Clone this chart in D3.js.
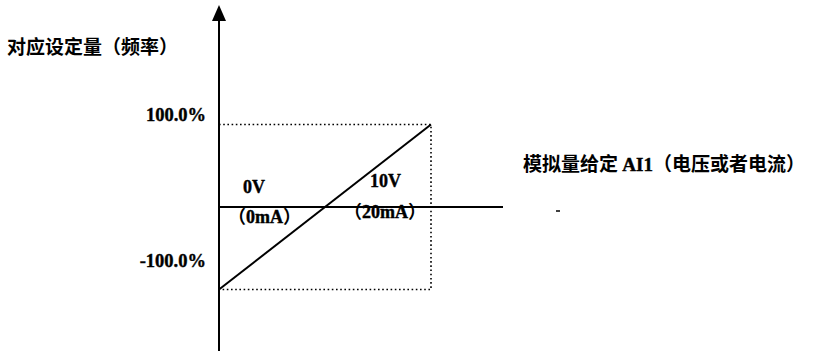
<!DOCTYPE html>
<html>
<head>
<meta charset="utf-8">
<script src="https://cdn.jsdelivr.net/npm/d3@7"></script>
<style>
  body { margin: 0; background: #fff; }
  .serif { font-family: "Liberation Serif", "DejaVu Serif", serif; font-weight: bold; }
  .cjk { font-family: "Noto Sans CJK SC", sans-serif; font-weight: bold; }
</style>
</head>
<body>
<svg id="chart" width="819" height="351"></svg>
<script>

// input AI1 in volts, output setting in percent
var voltage = [0, 10],
    setting = [-100, 100];

var yTickLabels = ["100.0%", "-100.0%"],
    yTickValues = [100, -100];

var xLabels = [
    {v: 0, top: "0V", bottom: "0mA"},
    {v: 10, top: "10V", bottom: "20mA"}
];

var yTitle = "对应设定量（频率）",
    xTitleA = "模拟量给定 ",
    xTitleB = "AI1",
    xTitleC = "（电压或者电流）";

var svg = d3.select("#chart");

var x = d3.scaleLinear()
    .domain([0, 10])
    .range([219, 431]);

var y = d3.scaleLinear()
    .domain([-100, 100])
    .range([289.5, 124.5]);

var y0 = y(0);

// dotted box for the +-100% window
var box = d3.path();
box.moveTo(x(0), y(100));
box.lineTo(x(10), y(100));
box.lineTo(x(10), y(-100));
box.lineTo(x(0), y(-100));

svg.append("path")
    .attr("d", box.toString())
    .attr("fill", "none")
    .attr("stroke", "#000")
    .attr("stroke-width", 1.6)
    .attr("stroke-dasharray", "1.6,2.6");

// horizontal axis
svg.append("line")
    .attr("x1", x(0))
    .attr("x2", 503)
    .attr("y1", y0)
    .attr("y2", y0)
    .attr("stroke", "#000")
    .attr("stroke-width", 2);

// vertical axis with arrow
svg.append("line")
    .attr("x1", x(0))
    .attr("x2", x(0))
    .attr("y1", 18)
    .attr("y2", 351)
    .attr("stroke", "#000")
    .attr("stroke-width", 2);

svg.append("path")
    .attr("d", "M" + x(0) + ",5L" + (x(0) + 7) + ",21L" + (x(0) - 7) + ",21Z")
    .attr("fill", "#000");

// the characteristic line
var line = d3.line()
    .x(function(d){ return x(d[0]); })
    .y(function(d){ return y(d[1]); });

svg.append("path")
    .datum(d3.zip(voltage, setting))
    .attr("d", line)
    .attr("fill", "none")
    .attr("stroke", "#000")
    .attr("stroke-width", 2);

// y labels
svg.selectAll("text.ylab")
    .data(yTickValues)
    .enter()
    .append("text")
    .attr("class", "ylab serif")
    .attr("x", 206)
    .attr("y", function(d){ return d > 0 ? y(d) - 4 : y(d) - 23; })
    .attr("text-anchor", "end")
    .attr("font-size", 18.5)
    .attr("stroke", "#000")
    .attr("stroke-width", 0.4)
    .text(function(d,i){ return yTickLabels[i]; });

// x labels
var xl = svg.selectAll("g.xlab")
    .data(xLabels)
    .enter()
    .append("g")
    .attr("class", "xlab");

xl.append("text")
    .attr("class", "serif")
    .attr("x", function(d){ return d.v == 0 ? x(d.v) + 24 : x(d.v) - 61; })
    .attr("y", function(d){ return d.v == 0 ? y0 - 14 : y0 - 20; })
    .attr("font-size", 18)
    .attr("stroke", "#000")
    .attr("stroke-width", 0.4)
    .text(function(d){ return d.top; });

var bottom = xl.append("text")
    .attr("x", function(d){ return d.v == 0 ? x(d.v) + 9 : x(d.v) - 87; })
    .attr("y", function(d){ return d.v == 0 ? y0 + 16 : y0 + 11; })
    .attr("font-size", 18);

bottom.append("tspan").attr("class", "cjk").text("（");
bottom.append("tspan").attr("class", "serif")
    .attr("stroke", "#000")
    .attr("stroke-width", 0.4)
    .text(function(d){ return d.bottom; });
bottom.append("tspan").attr("class", "cjk").text("）");

// titles
svg.append("text")
    .attr("class", "cjk")
    .attr("x", 7)
    .attr("y", 54)
    .attr("font-size", 19)
    .text(yTitle);

var xt = svg.append("text")
    .attr("x", 523)
    .attr("y", 171)
    .attr("font-size", 19);

xt.append("tspan").attr("class", "cjk").text(xTitleA);
xt.append("tspan").attr("class", "serif")
    .attr("stroke", "#000")
    .attr("stroke-width", 0.4)
    .text(xTitleB);
xt.append("tspan").attr("class", "cjk").text(xTitleC);

// small stray mark
svg.append("line")
    .attr("x1", 556)
    .attr("x2", 560)
    .attr("y1", 211)
    .attr("y2", 211)
    .attr("stroke", "#000")
    .attr("stroke-width", 1.5);

</script>
</body>
</html>
